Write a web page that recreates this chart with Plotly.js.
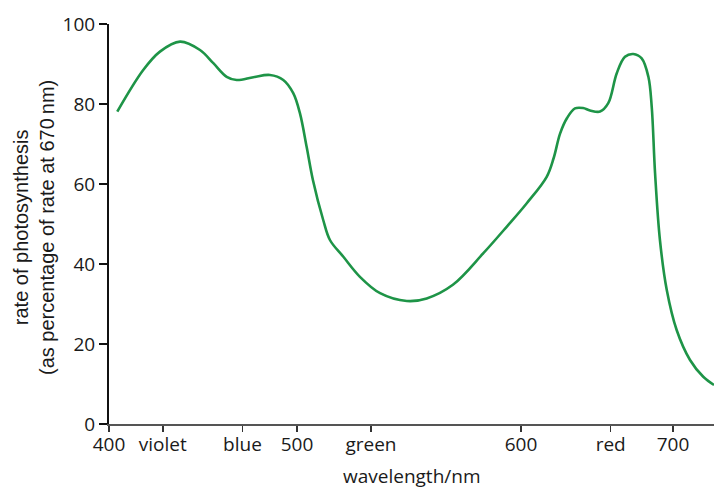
<!DOCTYPE html>
<html>
<head>
<meta charset="utf-8">
<script src="https://cdn.plot.ly/plotly-3.0.1.min.js"></script>
<style>html,body{margin:0;padding:0;background:#fff;}#chart{width:714px;height:490px;}</style>
</head>
<body>
<div id="chart"></div>
<script>
// Wavelength (nm) and rate of photosynthesis (% of rate at 670 nm)
const wavelength = [404.4, 418.2, 427.1, 437.8, 448.4, 455.5, 462.6, 467.9, 476.8, 485.6, 492.7, 498, 501.3, 504.3, 507.1, 511.7, 514.7, 520.7, 528.1, 537.1, 549, 557.9, 569.6, 583.2, 593.6, 603.8, 616.9, 621.5, 625.7, 630.3, 635.5, 640.8, 645.4, 652, 657.4, 663, 668.4, 673.9, 679.4, 683.8, 686, 688.2, 691.4, 695.9, 702.4, 711.2, 719.9, 727];
const rate = [78.1, 88.5, 93.1, 95.6, 93.5, 90.2, 86.8, 86, 86.7, 87.25, 86, 82.7, 77.7, 69.3, 61, 51, 46, 41.8, 36.8, 32.7, 30.75, 31.4, 34.8, 42.7, 49.3, 55.2, 61.8, 66.5, 72.6, 76.5, 78.9, 79, 78.4, 78.1, 80.2, 87.7, 91.8, 92.5, 91.4, 86.8, 79.3, 62.7, 46, 33.5, 23.5, 16, 11.8, 9.75];

// Tick labels on the (non-uniform) wavelength axis
const tickWavelengths = [400, 428.6, 471, 500, 533, 600, 659, 700];
const tickLabels = ['400', 'violet', 'blue', '500', 'green', '600', 'red', '700'];

const yTicks = [0, 20, 40, 60, 80, 100];

// The original axis is not evenly spaced: anchor the numbered wavelengths to axis units
const anchorWl = [400, 500, 600, 700];
const anchorAx = [0, 188, 412, 564];
function toAxis(w) {
  let i = 0;
  if (w >= anchorWl[anchorWl.length - 1]) i = anchorWl.length - 2;
  else { while (i < anchorWl.length - 2 && w > anchorWl[i + 1]) i++; }
  const t = (w - anchorWl[i]) / (anchorWl[i + 1] - anchorWl[i]);
  return anchorAx[i] + t * (anchorAx[i + 1] - anchorAx[i]);
}

const trace = {
  x: wavelength.map(toAxis),
  y: rate,
  type: 'scatter',
  mode: 'lines',
  line: {color: '#1e9447', width: 2.6, shape: 'spline', smoothing: 1},
  hoverinfo: 'skip'
};

const tickFont = {family: '"Open Sans", "Noto Sans", sans-serif', size: 19, color: '#1a1a1a'};

const layout = {
  width: 714, height: 490,
  margin: {l: 109, r: 0, t: 24, b: 66},
  paper_bgcolor: '#fff', plot_bgcolor: '#fff',
  showlegend: false,
  xaxis: {
    range: [0, 605],
    tickmode: 'array',
    tickvals: tickWavelengths.map(toAxis),
    ticktext: tickLabels,
    ticks: 'outside', ticklen: 6, tickwidth: 1.5, tickcolor: '#333',
    ticklabelstandoff: -3,
    showgrid: false, zeroline: false,
    showline: true, linecolor: '#555', linewidth: 1.5,
    tickfont: tickFont,
    fixedrange: true
  },
  yaxis: {
    range: [0, 100],
    tickmode: 'array',
    tickvals: yTicks,
    ticktext: yTicks.map(String),
    ticks: 'outside', ticklen: 8, tickwidth: 1.5, tickcolor: '#111',
    showgrid: false, zeroline: false,
    showline: true, linecolor: '#111', linewidth: 2,
    tickfont: tickFont,
    fixedrange: true
  },
  annotations: [
    {
      text: 'rate of photosynthesis<br>(as percentage of rate at 670\u2009nm)',
      xref: 'paper', yref: 'paper',
      x: -75 / 605, y: 0.49,
      xanchor: 'center', yanchor: 'middle',
      textangle: -90, showarrow: false,
      font: {family: 'Arial, "Liberation Sans", sans-serif', size: 20, color: '#1a1a1a'}
    },
    {
      text: 'wavelength/nm',
      xref: 'paper', yref: 'paper',
      x: 0.5, y: -52 / 400,
      xanchor: 'center', yanchor: 'middle',
      showarrow: false,
      font: {family: '"Open Sans", "Noto Sans", sans-serif', size: 19, color: '#1a1a1a'}
    }
  ]
};

Plotly.newPlot('chart', [trace], layout, {displayModeBar: false, staticPlot: true});
</script>
</body>
</html>
